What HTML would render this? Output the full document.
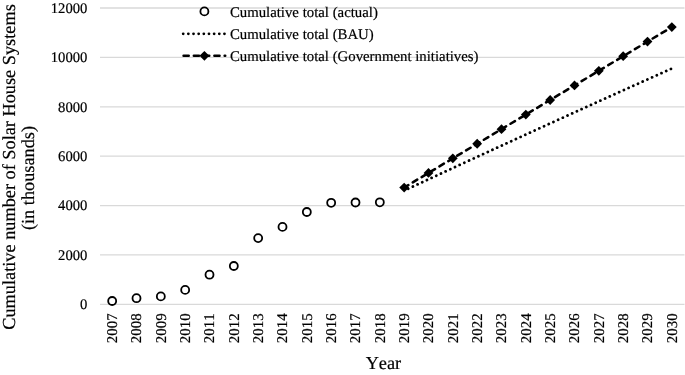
<!DOCTYPE html>
<html><head><meta charset="utf-8"><title>chart</title>
<style>
html,body{margin:0;padding:0;background:#fff;}
svg text{text-rendering:geometricPrecision;}
body{width:685px;height:375px;overflow:hidden;font-family:"Liberation Serif",serif;}
svg{display:block;will-change:transform;}
text{font-family:"Liberation Serif",serif;fill:#000;font-kerning:none;stroke:#000;stroke-width:0.2px;}
</style></head><body>
<svg width="685" height="375" viewBox="0 0 685 375">
<rect width="685" height="375" fill="#fff"/>

<line x1="100.0" x2="684.5" y1="304.30" y2="304.30" stroke="#d9d9d9" stroke-width="1.3"/>
<line x1="100.0" x2="684.5" y1="254.92" y2="254.92" stroke="#d9d9d9" stroke-width="1.3"/>
<line x1="100.0" x2="684.5" y1="205.54" y2="205.54" stroke="#d9d9d9" stroke-width="1.3"/>
<line x1="100.0" x2="684.5" y1="156.16" y2="156.16" stroke="#d9d9d9" stroke-width="1.3"/>
<line x1="100.0" x2="684.5" y1="106.78" y2="106.78" stroke="#d9d9d9" stroke-width="1.3"/>
<line x1="100.0" x2="684.5" y1="57.40" y2="57.40" stroke="#d9d9d9" stroke-width="1.3"/>
<line x1="100.0" x2="684.5" y1="8.02" y2="8.02" stroke="#d9d9d9" stroke-width="1.3"/>
<text x="87.4" y="309.25" font-size="14.67" text-anchor="end">0</text>
<text x="87.4" y="259.87" font-size="14.67" text-anchor="end">2000</text>
<text x="87.4" y="210.49" font-size="14.67" text-anchor="end">4000</text>
<text x="87.4" y="161.11" font-size="14.67" text-anchor="end">6000</text>
<text x="87.4" y="111.73" font-size="14.67" text-anchor="end">8000</text>
<text x="87.4" y="62.35" font-size="14.67" text-anchor="end">10000</text>
<text x="87.4" y="12.97" font-size="14.67" text-anchor="end">12000</text>
<text transform="translate(117.07,343.2) rotate(-90)" font-size="14.9" text-anchor="start">2007</text>
<text transform="translate(141.40,343.2) rotate(-90)" font-size="14.9" text-anchor="start">2008</text>
<text transform="translate(165.73,343.2) rotate(-90)" font-size="14.9" text-anchor="start">2009</text>
<text transform="translate(190.07,343.2) rotate(-90)" font-size="14.9" text-anchor="start">2010</text>
<text transform="translate(214.40,343.2) rotate(-90)" font-size="14.9" text-anchor="start">2011</text>
<text transform="translate(238.73,343.2) rotate(-90)" font-size="14.9" text-anchor="start">2012</text>
<text transform="translate(263.07,343.2) rotate(-90)" font-size="14.9" text-anchor="start">2013</text>
<text transform="translate(287.40,343.2) rotate(-90)" font-size="14.9" text-anchor="start">2014</text>
<text transform="translate(311.73,343.2) rotate(-90)" font-size="14.9" text-anchor="start">2015</text>
<text transform="translate(336.07,343.2) rotate(-90)" font-size="14.9" text-anchor="start">2016</text>
<text transform="translate(360.40,343.2) rotate(-90)" font-size="14.9" text-anchor="start">2017</text>
<text transform="translate(384.73,343.2) rotate(-90)" font-size="14.9" text-anchor="start">2018</text>
<text transform="translate(409.07,343.2) rotate(-90)" font-size="14.9" text-anchor="start">2019</text>
<text transform="translate(433.40,343.2) rotate(-90)" font-size="14.9" text-anchor="start">2020</text>
<text transform="translate(457.73,343.2) rotate(-90)" font-size="14.9" text-anchor="start">2021</text>
<text transform="translate(482.07,343.2) rotate(-90)" font-size="14.9" text-anchor="start">2022</text>
<text transform="translate(506.40,343.2) rotate(-90)" font-size="14.9" text-anchor="start">2023</text>
<text transform="translate(530.73,343.2) rotate(-90)" font-size="14.9" text-anchor="start">2024</text>
<text transform="translate(555.07,343.2) rotate(-90)" font-size="14.9" text-anchor="start">2025</text>
<text transform="translate(579.40,343.2) rotate(-90)" font-size="14.9" text-anchor="start">2026</text>
<text transform="translate(603.73,343.2) rotate(-90)" font-size="14.9" text-anchor="start">2027</text>
<text transform="translate(628.07,343.2) rotate(-90)" font-size="14.9" text-anchor="start">2028</text>
<text transform="translate(652.40,343.2) rotate(-90)" font-size="14.9" text-anchor="start">2029</text>
<text transform="translate(676.73,343.2) rotate(-90)" font-size="14.9" text-anchor="start">2030</text>
<text x="383.4" y="369.3" font-size="18.3" text-anchor="middle">Year</text>
<text transform="translate(15.1,167) rotate(-90)" font-size="18.3" text-anchor="middle">Cumulative number of Solar House Systems</text>
<text transform="translate(34.4,178) rotate(-90)" font-size="18.3" text-anchor="middle">(in thousands)</text>
<path d="M404.17,190.60 L406.60,189.47 L409.03,188.34 L411.47,187.21 L413.90,186.08 L416.33,184.95 L418.77,183.82 L421.20,182.69 L423.63,181.56 L426.07,180.43 L428.50,179.30 L430.93,178.17 L433.37,177.05 L435.80,175.92 L438.23,174.79 L440.67,173.67 L443.10,172.54 L445.53,171.42 L447.97,170.29 L450.40,169.17 L452.83,168.04 L455.27,166.92 L457.70,165.80 L460.13,164.67 L462.57,163.55 L465.00,162.43 L467.43,161.31 L469.87,160.19 L472.30,159.06 L474.73,157.94 L477.17,156.82 L479.60,155.70 L482.03,154.58 L484.47,153.47 L486.90,152.35 L489.33,151.23 L491.77,150.11 L494.20,148.99 L496.63,147.88 L499.07,146.76 L501.50,145.64 L503.93,144.53 L506.37,143.41 L508.80,142.30 L511.23,141.18 L513.67,140.07 L516.10,138.96 L518.53,137.84 L520.97,136.73 L523.40,135.62 L525.83,134.50 L528.27,133.39 L530.70,132.28 L533.13,131.17 L535.57,130.06 L538.00,128.95 L540.43,127.84 L542.87,126.73 L545.30,125.62 L547.73,124.51 L550.17,123.40 L552.60,122.30 L555.03,121.19 L557.47,120.08 L559.90,118.98 L562.33,117.87 L564.77,116.76 L567.20,115.66 L569.63,114.55 L572.07,113.45 L574.50,112.34 L576.93,111.24 L579.37,110.14 L581.80,109.03 L584.23,107.93 L586.67,106.83 L589.10,105.73 L591.53,104.63 L593.97,103.52 L596.40,102.42 L598.83,101.32 L601.27,100.22 L603.70,99.12 L606.13,98.03 L608.57,96.93 L611.00,95.83 L613.43,94.73 L615.87,93.63 L618.30,92.54 L620.73,91.44 L623.17,90.34 L625.60,89.25 L628.03,88.15 L630.47,87.06 L632.90,85.96 L635.33,84.87 L637.77,83.77 L640.20,82.68 L642.63,81.59 L645.07,80.49 L647.50,79.40 L649.93,78.31 L652.37,77.22 L654.80,76.13 L657.23,75.04 L659.67,73.95 L662.10,72.86 L664.53,71.77 L666.97,70.68 L669.40,69.59 L671.83,68.50" fill="none" stroke="#000" stroke-width="2.8" stroke-dasharray="0.01 5.146" stroke-dashoffset="0.7" stroke-linecap="round"/>
<path d="M404.17,187.54 L428.50,172.95 L452.83,158.36 L477.17,143.77 L501.50,129.17 L525.83,114.58 L550.17,99.99 L574.50,85.40 L598.83,70.81 L623.17,56.21 L647.50,41.62 L671.83,27.03" fill="none" stroke="#000" stroke-width="2.58" stroke-dasharray="5.16 5.20" stroke-dashoffset="0.3" stroke-linecap="round"/>
<path d="M404.17,182.64 L409.07,187.54 L404.17,192.44 L399.27,187.54 Z" fill="#000"/>
<path d="M428.50,168.05 L433.40,172.95 L428.50,177.85 L423.60,172.95 Z" fill="#000"/>
<path d="M452.83,153.46 L457.73,158.36 L452.83,163.26 L447.93,158.36 Z" fill="#000"/>
<path d="M477.17,138.87 L482.07,143.77 L477.17,148.67 L472.27,143.77 Z" fill="#000"/>
<path d="M501.50,124.27 L506.40,129.17 L501.50,134.07 L496.60,129.17 Z" fill="#000"/>
<path d="M525.83,109.68 L530.73,114.58 L525.83,119.48 L520.93,114.58 Z" fill="#000"/>
<path d="M550.17,95.09 L555.07,99.99 L550.17,104.89 L545.27,99.99 Z" fill="#000"/>
<path d="M574.50,80.50 L579.40,85.40 L574.50,90.30 L569.60,85.40 Z" fill="#000"/>
<path d="M598.83,65.91 L603.73,70.81 L598.83,75.71 L593.93,70.81 Z" fill="#000"/>
<path d="M623.17,51.31 L628.07,56.21 L623.17,61.11 L618.27,56.21 Z" fill="#000"/>
<path d="M647.50,36.72 L652.40,41.62 L647.50,46.52 L642.60,41.62 Z" fill="#000"/>
<path d="M671.83,22.13 L676.73,27.03 L671.83,31.93 L666.93,27.03 Z" fill="#000"/>
<circle cx="112.17" cy="301.00" r="4" fill="#fff" stroke="#000" stroke-width="1.8"/>
<circle cx="136.50" cy="298.20" r="4" fill="#fff" stroke="#000" stroke-width="1.8"/>
<circle cx="160.83" cy="296.40" r="4" fill="#fff" stroke="#000" stroke-width="1.8"/>
<circle cx="185.17" cy="289.90" r="4" fill="#fff" stroke="#000" stroke-width="1.8"/>
<circle cx="209.50" cy="274.70" r="4" fill="#fff" stroke="#000" stroke-width="1.8"/>
<circle cx="233.83" cy="266.00" r="4" fill="#fff" stroke="#000" stroke-width="1.8"/>
<circle cx="258.17" cy="238.10" r="4" fill="#fff" stroke="#000" stroke-width="1.8"/>
<circle cx="282.50" cy="226.90" r="4" fill="#fff" stroke="#000" stroke-width="1.8"/>
<circle cx="306.83" cy="212.00" r="4" fill="#fff" stroke="#000" stroke-width="1.8"/>
<circle cx="331.17" cy="202.80" r="4" fill="#fff" stroke="#000" stroke-width="1.8"/>
<circle cx="355.50" cy="202.50" r="4" fill="#fff" stroke="#000" stroke-width="1.8"/>
<circle cx="379.83" cy="202.30" r="4" fill="#fff" stroke="#000" stroke-width="1.8"/>
<circle cx="204.40" cy="11.4" r="4" fill="#fff" stroke="#000" stroke-width="1.8"/>
<line x1="182.3" x2="226.5" y1="33.8" y2="33.8" stroke="#000" stroke-width="2.8" stroke-dasharray="0.01 5.146" stroke-linecap="round" stroke-dashoffset="-0.9"/>
<line x1="183.59" x2="225.21" y1="55.8" y2="55.8" stroke="#000" stroke-width="2.58" stroke-dasharray="5.12 5.15" stroke-linecap="round"/>
<path d="M204.40,50.90 L209.30,55.80 L204.40,60.70 L199.50,55.80 Z" fill="#000"/>
<text x="229.9" y="16.60" font-size="14.8">Cumulative total (actual)</text>
<text x="229.9" y="38.63" font-size="14.8">Cumulative total (BAU)</text>
<text x="229.9" y="60.66" font-size="14.8">Cumulative total (Government initiatives)</text>
</svg></body></html>
